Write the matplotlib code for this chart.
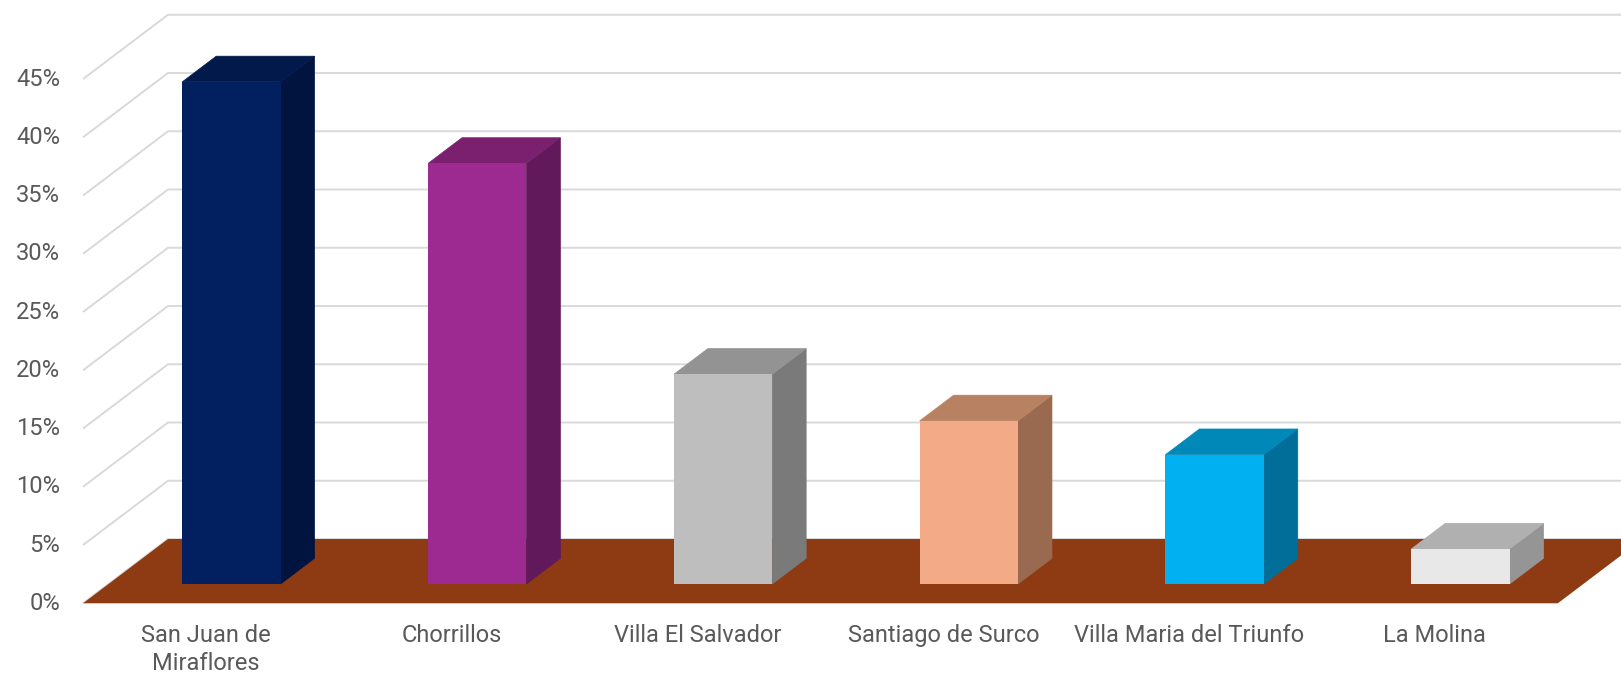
import matplotlib
matplotlib.use("Agg")
import matplotlib.pyplot as plt
from matplotlib.patches import Polygon

# ---- data ----
categories = ["San Juan de\nMiraflores", "Chorrillos", "Villa El Salvador",
              "Santiago de Surco", "Villa Maria del Triunfo", "La Molina"]
values = [43.1, 36.1, 18.0, 14.0, 11.1, 3.0]
yticks = [0, 5, 10, 15, 20, 25, 30, 35, 40, 45]
ytick_labels = [f"{t}%" for t in yticks]

front_colors = ["#022060", "#9C2A91", "#BEBEBE", "#F2AB86", "#00B0F0", "#E8E8E8"]
top_colors = ["#021A4B", "#7A206F", "#939393", "#B88262", "#0088B8", "#B0B0B0"]
side_colors = ["#011440", "#62195B", "#7A7A7A", "#9A6A50", "#006E99", "#959595"]
floor_color = "#8E3A12"
grid_color = "#D9D9D9"
text_color = "#595959"

# ---- layout (pixels) ----
W, H = 1621, 674
X0 = 83.0      # pixel x of category axis start (front)
CW = 245.8     # pixels per category
Y0 = 674 - 603.3  # pixel (from bottom) of 0% at front
PY = 11.65     # pixels per percent
OX = 85.0 / CW   # depth offset in category units
OY = 64.3 / PY   # depth offset in percent units
D0, D1 = 0.3, 0.7  # bar depth span
BW = 0.4           # bar width in category units

plt.rcParams['font.family'] = ['Roboto', 'DejaVu Sans']
fig = plt.figure(figsize=(W / 100, H / 100), dpi=100)
ax = fig.add_axes([0, 0, 1, 1])
ax.set_xlim(-X0 / CW, (W - X0) / CW)
ax.set_ylim(-Y0 / PY, (H - Y0) / PY)
ax.axis("off")

n = len(categories)

# gridlines: diagonal on side + horizontal on back wall
for t in yticks:
    ax.plot([0, OX, n + OX + 1], [t, t + OY, t + OY], color=grid_color,
            lw=1.4, solid_capstyle="butt", zorder=1)

# floor
ax.add_patch(Polygon([(0, 0), (n, 0), (n + OX, OY), (OX, OY)], closed=True,
                     facecolor=floor_color, edgecolor="none", zorder=2))

# bars
for i, v in enumerate(values):
    xl = i + 0.5 - BW / 2
    xr = i + 0.5 + BW / 2
    def P(x, y, d):
        return (x + d * OX, y + d * OY)
    front = [P(xl, 0, D0), P(xr, 0, D0), P(xr, v, D0), P(xl, v, D0)]
    side = [P(xr, 0, D0), P(xr, 0, D1), P(xr, v, D1), P(xr, v, D0)]
    top = [P(xl, v, D0), P(xr, v, D0), P(xr, v, D1), P(xl, v, D1)]
    ax.add_patch(Polygon(side, closed=True, facecolor=side_colors[i],
                         edgecolor=side_colors[i], lw=0.5, zorder=3))
    ax.add_patch(Polygon(top, closed=True, facecolor=top_colors[i],
                         edgecolor=top_colors[i], lw=0.5, zorder=3))
    ax.add_patch(Polygon(front, closed=True, facecolor=front_colors[i],
                         edgecolor="none", zorder=4))

# y tick labels
for t, lab in zip(yticks, ytick_labels):
    ax.text((60 - X0) / CW, t, lab, ha="right", va="center", fontsize=17,
            color=text_color, zorder=5)

# category labels
for i, c in enumerate(categories):
    ax.text(i + 0.5, -1.75, c, ha="center", va="top", fontsize=17,
            color=text_color, linespacing=1.3, zorder=5)

fig.savefig("out.png", dpi=100, facecolor="white")
